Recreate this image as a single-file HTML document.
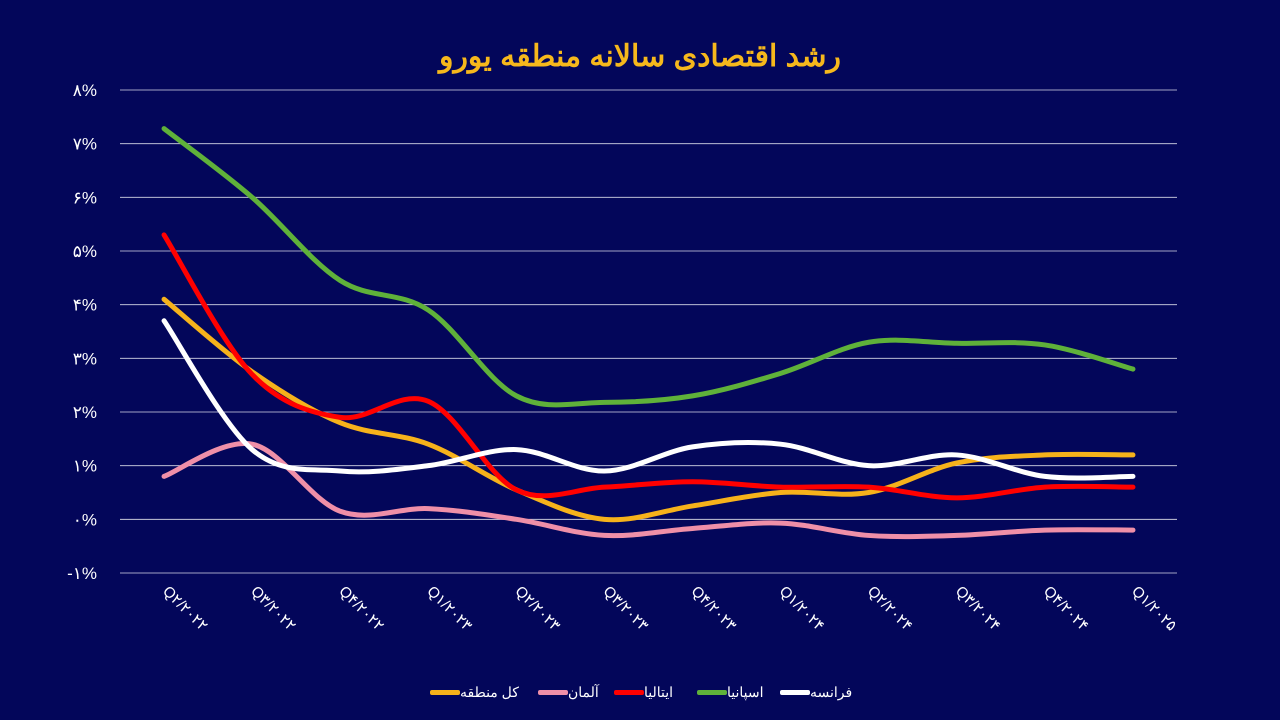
<!DOCTYPE html>
<html><head><meta charset="utf-8"><style>
html,body{margin:0;padding:0;background:#03065a;}
svg{display:block;font-family:"Liberation Sans","Noto Sans CJK SC",sans-serif;}
</style></head><body>
<svg width="1280" height="720" id="chart">
<rect width="1280" height="720" fill="#03065a"/>
<text x="640" y="66" text-anchor="middle" fill="#f6b81c" font-size="30" font-weight="bold">رشد اقتصادی سالانه منطقه یورو</text>
<g id="grid"></g><g id="series"></g><g id="xlabels"></g>
<g id="legend"></g>
</svg>
<script>
const categories=["Q۲/۲۰۲۲","Q۳/۲۰۲۲","Q۴/۲۰۲۲","Q۱/۲۰۲۳","Q۲/۲۰۲۳","Q۳/۲۰۲۳","Q۴/۲۰۲۳","Q۱/۲۰۲۴","Q۲/۲۰۲۴","Q۳/۲۰۲۴","Q۴/۲۰۲۴","Q۱/۲۰۲۵"];
const yTicks=[-1,0,1,2,3,4,5,6,7,8];
const yTickLabels=["-۱%","۰%","۱%","۲%","۳%","۴%","۵%","۶%","۷%","۸%"];
const euroArea=[4.1,2.75,1.8,1.4,0.55,0.0,0.25,0.5,0.5,1.05,1.2,1.2];
const germany=[0.8,1.4,0.15,0.2,0.0,-0.3,-0.17,-0.07,-0.3,-0.3,-0.2,-0.2];
const italy=[5.3,2.7,1.9,2.2,0.55,0.6,0.7,0.6,0.6,0.4,0.6,0.6];
const spain=[7.28,6.0,4.45,3.9,2.3,2.18,2.3,2.72,3.3,3.28,3.25,2.8];
const france=[3.7,1.3,0.9,1.0,1.3,0.9,1.35,1.4,1.0,1.2,0.8,0.8];
const NS="http://www.w3.org/2000/svg";
const left=120,right=1177,y8=90,ym1=573;
const bw=(right-left)/categories.length;
const xs=i=>left+bw*(i+0.5);
const ys=v=>ym1-(v+1)*(ym1-y8)/9;
function mk(t,a,p){const e=document.createElementNS(NS,t);for(const k in a)e.setAttribute(k,a[k]);p.appendChild(e);return e;}
const grid=document.getElementById('grid');
yTicks.forEach((v,i)=>{
 const l=mk('line',{x1:left,x2:right,y1:ys(v),y2:ys(v),stroke:v===0?'#c8c8d8':'#d8d8e8','stroke-width':v===0?1:0.8},grid);
 
 
 const t=mk('text',{x:97,y:ys(v)+6,'text-anchor':'end',fill:'#ffffff','font-size':17},grid);
 t.textContent=yTickLabels[i];
 
 
});
const xl=document.getElementById('xlabels');
categories.forEach((c,i)=>{
 const x=xs(i)-2,y=592;
 const t=mk('text',{x:x,y:y,fill:'#ffffff','font-size':15,transform:`rotate(45 ${x} ${y})`},xl);
 t.textContent=c;
 
 
});
function path(vals){
 const p=vals.map((v,i)=>[xs(i),ys(v)]);
 let d=`M${p[0][0]},${p[0][1]}`;
 for(let i=0;i<p.length-1;i++){
  const p0=p[i-1]||p[i],p1=p[i],p2=p[i+1],p3=p[i+2]||p2;
  const c1=[p1[0]+(p2[0]-p0[0])/6,p1[1]+(p2[1]-p0[1])/6];
  const c2=[p2[0]-(p3[0]-p1[0])/6,p2[1]-(p3[1]-p1[1])/6];
  d+=` C${c1[0]},${c1[1]} ${c2[0]},${c2[1]} ${p2[0]},${p2[1]}`;
 }
 return d;
}
const series=[["spain",spain,"#5fb13a","اسپانیا"],["euro-area",euroArea,"#f6b21b","کل منطقه"],["germany",germany,"#ef8fa8","آلمان"],["italy",italy,"#ff0000","ایتالیا"],["france",france,"#ffffff","فرانسه"]];
const sg=document.getElementById('series');
series.forEach(s=>{
 const e=mk('path',{d:path(s[1]),fill:'none',stroke:s[2],'stroke-width':5,'stroke-linecap':'round'},sg);
 
 
});
const lg=document.getElementById('legend');
const legendItems=[["euro-area","#f6b21b","کل منطقه",430],["germany","#ef8fa8","آلمان",538],["italy","#ff0000","ایتالیا",614],["spain","#5fb13a","اسپانیا",697],["france","#ffffff","فرانسه",780]];
legendItems.forEach(it=>{
 const r=mk('rect',{x:it[3],y:690,width:30,height:5,rx:2,fill:it[1]},lg);
 
 
 const t=mk('text',{x:it[3]+30,y:697,fill:'#ffffff','font-size':14},lg);
 t.textContent=it[2];
 
 
});
</script>
</body></html>
